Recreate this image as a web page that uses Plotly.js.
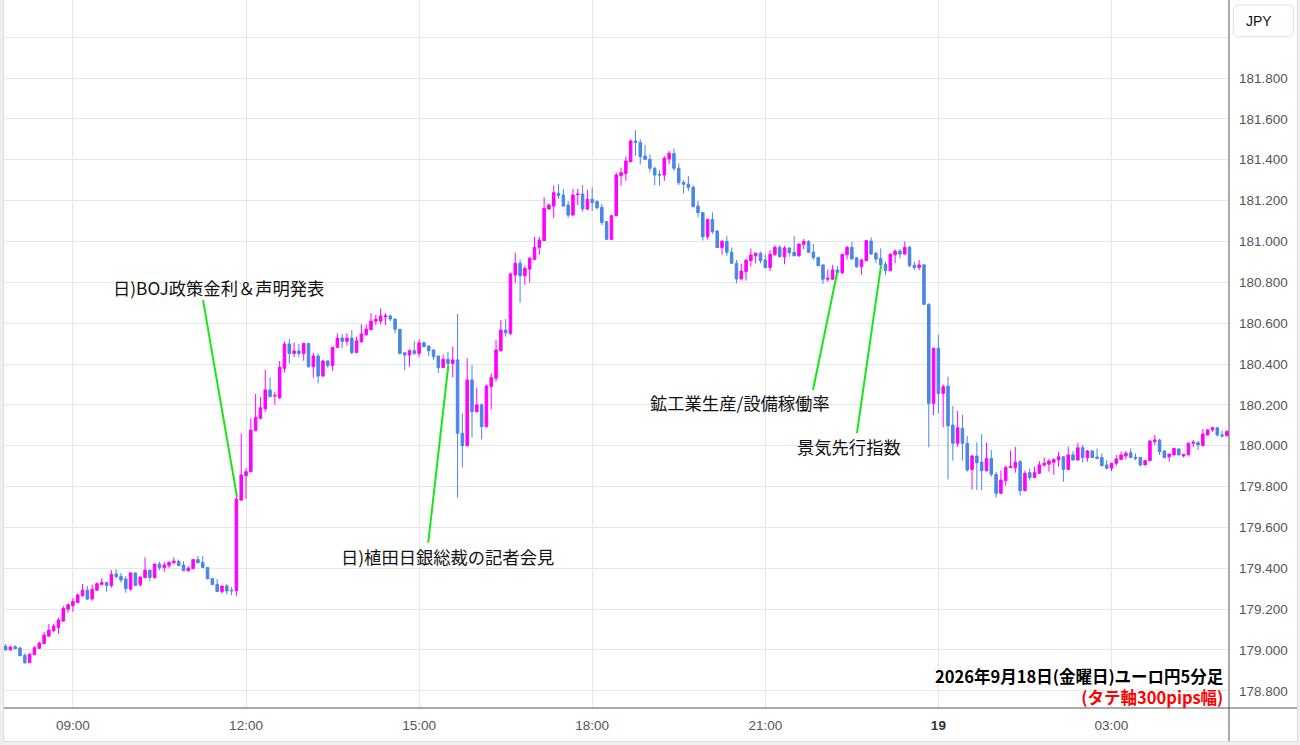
<!DOCTYPE html>
<html><head><meta charset="utf-8">
<script src="https://cdn.plot.ly/plotly-3.0.1.min.js"></script>
<style>
html,body{margin:0;padding:0;background:#efefef;width:1300px;height:745px;overflow:hidden}
#wrap{position:absolute;left:3px;top:-1px;width:1295px;height:743px;border:1px solid #dcdcdc;background:#fff;box-sizing:border-box}
#chart{width:1293px;height:741px}
</style></head><body><div id="wrap"><div id="chart"></div></div>
<script>
const times = [
'2026-09-18 07:50','2026-09-18 07:55',
'2026-09-18 08:00','2026-09-18 08:05','2026-09-18 08:10','2026-09-18 08:15','2026-09-18 08:20','2026-09-18 08:25','2026-09-18 08:30','2026-09-18 08:35','2026-09-18 08:40','2026-09-18 08:45','2026-09-18 08:50','2026-09-18 08:55',
'2026-09-18 09:00','2026-09-18 09:05','2026-09-18 09:10','2026-09-18 09:15','2026-09-18 09:20','2026-09-18 09:25','2026-09-18 09:30','2026-09-18 09:35','2026-09-18 09:40','2026-09-18 09:45','2026-09-18 09:50','2026-09-18 09:55',
'2026-09-18 10:00','2026-09-18 10:05','2026-09-18 10:10','2026-09-18 10:15','2026-09-18 10:20','2026-09-18 10:25','2026-09-18 10:30','2026-09-18 10:35','2026-09-18 10:40','2026-09-18 10:45','2026-09-18 10:50','2026-09-18 10:55',
'2026-09-18 11:00','2026-09-18 11:05','2026-09-18 11:10','2026-09-18 11:15','2026-09-18 11:20','2026-09-18 11:25','2026-09-18 11:30','2026-09-18 11:35','2026-09-18 11:40','2026-09-18 11:45','2026-09-18 11:50','2026-09-18 11:55',
'2026-09-18 12:00','2026-09-18 12:05','2026-09-18 12:10','2026-09-18 12:15','2026-09-18 12:20','2026-09-18 12:25','2026-09-18 12:30','2026-09-18 12:35','2026-09-18 12:40','2026-09-18 12:45','2026-09-18 12:50','2026-09-18 12:55',
'2026-09-18 13:00','2026-09-18 13:05','2026-09-18 13:10','2026-09-18 13:15','2026-09-18 13:20','2026-09-18 13:25','2026-09-18 13:30','2026-09-18 13:35','2026-09-18 13:40','2026-09-18 13:45','2026-09-18 13:50','2026-09-18 13:55',
'2026-09-18 14:00','2026-09-18 14:05','2026-09-18 14:10','2026-09-18 14:15','2026-09-18 14:20','2026-09-18 14:25','2026-09-18 14:30','2026-09-18 14:35','2026-09-18 14:40','2026-09-18 14:45','2026-09-18 14:50','2026-09-18 14:55',
'2026-09-18 15:00','2026-09-18 15:05','2026-09-18 15:10','2026-09-18 15:15','2026-09-18 15:20','2026-09-18 15:25','2026-09-18 15:30','2026-09-18 15:35','2026-09-18 15:40','2026-09-18 15:45','2026-09-18 15:50','2026-09-18 15:55',
'2026-09-18 16:00','2026-09-18 16:05','2026-09-18 16:10','2026-09-18 16:15','2026-09-18 16:20','2026-09-18 16:25','2026-09-18 16:30','2026-09-18 16:35','2026-09-18 16:40','2026-09-18 16:45','2026-09-18 16:50','2026-09-18 16:55',
'2026-09-18 17:00','2026-09-18 17:05','2026-09-18 17:10','2026-09-18 17:15','2026-09-18 17:20','2026-09-18 17:25','2026-09-18 17:30','2026-09-18 17:35','2026-09-18 17:40','2026-09-18 17:45','2026-09-18 17:50','2026-09-18 17:55',
'2026-09-18 18:00','2026-09-18 18:05','2026-09-18 18:10','2026-09-18 18:15','2026-09-18 18:20','2026-09-18 18:25','2026-09-18 18:30','2026-09-18 18:35','2026-09-18 18:40','2026-09-18 18:45','2026-09-18 18:50','2026-09-18 18:55',
'2026-09-18 19:00','2026-09-18 19:05','2026-09-18 19:10','2026-09-18 19:15','2026-09-18 19:20','2026-09-18 19:25','2026-09-18 19:30','2026-09-18 19:35','2026-09-18 19:40','2026-09-18 19:45','2026-09-18 19:50','2026-09-18 19:55',
'2026-09-18 20:00','2026-09-18 20:05','2026-09-18 20:10','2026-09-18 20:15','2026-09-18 20:20','2026-09-18 20:25','2026-09-18 20:30','2026-09-18 20:35','2026-09-18 20:40','2026-09-18 20:45','2026-09-18 20:50','2026-09-18 20:55',
'2026-09-18 21:00','2026-09-18 21:05','2026-09-18 21:10','2026-09-18 21:15','2026-09-18 21:20','2026-09-18 21:25','2026-09-18 21:30','2026-09-18 21:35','2026-09-18 21:40','2026-09-18 21:45','2026-09-18 21:50','2026-09-18 21:55',
'2026-09-18 22:00','2026-09-18 22:05','2026-09-18 22:10','2026-09-18 22:15','2026-09-18 22:20','2026-09-18 22:25','2026-09-18 22:30','2026-09-18 22:35','2026-09-18 22:40','2026-09-18 22:45','2026-09-18 22:50','2026-09-18 22:55',
'2026-09-18 23:00','2026-09-18 23:05','2026-09-18 23:10','2026-09-18 23:15','2026-09-18 23:20','2026-09-18 23:25','2026-09-18 23:30','2026-09-18 23:35','2026-09-18 23:40','2026-09-18 23:45','2026-09-18 23:50','2026-09-18 23:55',
'2026-09-19 00:00','2026-09-19 00:05','2026-09-19 00:10','2026-09-19 00:15','2026-09-19 00:20','2026-09-19 00:25','2026-09-19 00:30','2026-09-19 00:35','2026-09-19 00:40','2026-09-19 00:45','2026-09-19 00:50','2026-09-19 00:55',
'2026-09-19 01:00','2026-09-19 01:05','2026-09-19 01:10','2026-09-19 01:15','2026-09-19 01:20','2026-09-19 01:25','2026-09-19 01:30','2026-09-19 01:35','2026-09-19 01:40','2026-09-19 01:45','2026-09-19 01:50','2026-09-19 01:55',
'2026-09-19 02:00','2026-09-19 02:05','2026-09-19 02:10','2026-09-19 02:15','2026-09-19 02:20','2026-09-19 02:25','2026-09-19 02:30','2026-09-19 02:35','2026-09-19 02:40','2026-09-19 02:45','2026-09-19 02:50','2026-09-19 02:55',
'2026-09-19 03:00','2026-09-19 03:05','2026-09-19 03:10','2026-09-19 03:15','2026-09-19 03:20','2026-09-19 03:25','2026-09-19 03:30','2026-09-19 03:35','2026-09-19 03:40','2026-09-19 03:45','2026-09-19 03:50','2026-09-19 03:55',
'2026-09-19 04:00','2026-09-19 04:05','2026-09-19 04:10','2026-09-19 04:15','2026-09-19 04:20','2026-09-19 04:25','2026-09-19 04:30','2026-09-19 04:35','2026-09-19 04:40','2026-09-19 04:45','2026-09-19 04:50','2026-09-19 04:55',
'2026-09-19 05:00'
];

const openPx = [
179.019,179.000,
179.016,179.010,178.974,178.938,178.977,179.008,179.031,179.068,179.095,179.110,179.142,179.200,
179.217,179.232,179.266,179.293,179.250,179.293,179.321,179.330,179.315,179.372,179.360,179.348,
179.298,179.377,179.320,179.354,179.391,179.354,179.421,179.403,179.413,179.427,179.434,179.416,
179.388,179.398,179.443,179.428,179.404,179.350,179.321,179.286,179.313,179.293,179.290,179.734,
179.853,179.873,180.074,180.134,180.181,180.273,180.243,180.235,180.379,180.498,180.452,180.464,
180.452,180.501,180.387,180.439,180.341,180.415,180.392,180.482,180.527,180.511,180.527,180.456,
180.509,180.543,180.568,180.610,180.610,180.630,180.635,180.620,180.570,180.455,180.444,180.465,
180.452,180.504,180.488,180.469,180.439,180.382,180.423,180.403,180.420,180.061,180.000,180.322,
180.167,180.200,180.093,180.289,180.330,180.465,180.566,180.550,180.836,180.893,180.832,180.865,
180.912,180.971,181.004,181.159,181.173,181.236,181.227,181.178,181.129,181.229,181.232,181.159,
181.206,181.195,181.167,181.097,181.010,181.126,181.322,181.333,181.390,181.492,181.485,181.418,
181.402,181.358,181.328,181.325,181.404,181.431,181.358,181.289,181.281,181.265,181.173,181.142,
181.023,181.108,181.051,180.970,181.000,180.947,180.893,180.816,180.852,180.906,180.930,180.942,
180.909,180.872,180.935,180.971,180.925,180.968,180.947,180.930,180.986,180.999,180.947,180.922,
180.885,180.815,180.815,180.860,180.847,180.935,180.971,180.920,180.876,180.906,181.002,180.942,
180.917,180.888,180.857,180.935,180.953,180.938,180.971,180.883,180.872,180.885,180.692,180.207,
180.477,180.256,180.292,180.101,180.012,180.085,180.012,179.884,179.950,179.920,179.878,179.938,
179.860,179.767,179.829,179.893,179.893,179.922,179.780,179.868,179.844,179.865,179.906,179.909,
179.919,179.930,179.946,179.884,179.955,179.930,179.990,179.942,179.974,179.945,179.942,179.906,
179.890,179.914,179.933,179.950,179.966,179.943,179.942,179.906,179.927,180.020,180.028,179.974,
179.946,179.955,179.984,179.950,179.955,180.012,180.015,180.000,180.053,180.077,180.088,180.053,
180.049
];

const highPx = [
179.029,179.020,
179.023,179.014,178.984,178.980,179.019,179.040,179.088,179.127,179.127,179.157,179.215,179.228,
179.254,179.277,179.323,179.313,179.320,179.330,179.352,179.334,179.391,179.396,179.377,179.362,
179.380,179.380,179.360,179.453,179.393,179.421,179.432,179.430,179.432,179.453,179.443,179.434,
179.410,179.445,179.460,179.460,179.406,179.352,179.347,179.315,179.323,179.308,179.767,180.060,
179.890,180.134,180.253,180.238,180.371,180.335,180.265,180.415,180.509,180.522,180.505,180.498,
180.503,180.503,180.455,180.452,180.420,180.417,180.484,180.550,180.547,180.550,180.566,180.534,
180.594,180.594,180.648,180.640,180.672,180.648,180.643,180.624,180.572,180.457,180.472,180.513,
180.521,180.509,180.490,180.471,180.441,180.447,180.460,180.485,180.645,180.159,180.428,180.395,
180.284,180.208,180.300,180.354,180.518,180.615,180.620,180.847,180.945,180.912,180.881,180.925,
181.023,181.023,181.216,181.186,181.273,181.281,181.257,181.198,181.257,181.257,181.276,181.252,
181.265,181.203,181.183,181.099,181.129,181.337,181.361,181.415,181.500,181.545,181.500,181.472,
181.426,181.366,181.349,181.418,181.443,181.455,181.382,181.300,181.320,181.276,181.198,181.144,
181.110,181.142,181.056,181.007,181.026,180.970,180.909,180.890,180.911,180.966,180.945,180.950,
180.937,180.958,180.982,180.982,180.978,180.970,181.026,180.990,181.012,181.007,180.987,180.925,
180.887,180.863,180.885,180.880,180.939,180.978,180.999,180.922,180.914,181.007,181.020,180.950,
180.966,180.901,180.942,180.961,180.963,180.999,180.978,180.901,180.909,180.890,180.697,180.479,
180.542,180.300,180.338,180.194,180.170,180.150,180.048,179.955,180.017,180.057,180.015,179.979,
179.873,179.878,179.902,179.976,179.995,179.930,179.878,179.890,179.897,179.925,179.942,179.935,
179.938,179.971,179.948,179.995,179.974,180.015,180.004,179.979,179.979,179.987,179.963,179.930,
179.916,179.955,179.971,179.974,179.987,179.963,179.944,179.930,180.028,180.053,180.033,179.979,
179.963,179.990,179.987,179.960,180.015,180.028,180.023,180.082,180.082,180.093,180.090,180.074,
180.077
];

const lowPx = [
178.998,178.998,
179.006,178.972,178.932,178.938,178.975,179.006,179.029,179.063,179.088,179.080,179.138,179.183,
179.187,179.230,179.261,179.245,179.241,179.289,179.316,179.285,179.305,179.349,179.330,179.280,
179.290,179.312,179.310,179.352,179.336,179.350,179.390,179.383,179.400,179.420,179.411,179.386,
179.383,179.396,179.425,179.402,179.347,179.318,179.284,179.276,179.272,179.267,179.265,179.730,
179.739,179.870,180.072,180.129,180.167,180.238,180.201,180.229,180.358,180.403,180.433,180.433,
180.416,180.382,180.333,180.305,180.338,180.382,180.366,180.479,180.477,180.490,180.447,180.452,
180.505,180.540,180.566,180.591,180.594,180.591,180.610,180.550,180.447,180.370,180.387,180.444,
180.436,180.483,180.439,180.420,180.354,180.380,180.363,180.335,179.746,179.893,179.998,180.040,
180.162,180.031,180.090,180.178,180.314,180.460,180.534,180.542,180.798,180.700,180.787,180.798,
180.909,180.934,181.002,181.154,181.116,181.208,181.171,181.116,181.127,181.178,181.146,181.154,
181.150,181.157,181.080,181.008,181.008,181.124,181.273,181.297,181.388,181.418,181.377,181.400,
181.338,181.276,181.273,181.297,181.377,181.345,181.276,181.235,181.248,181.168,181.118,181.004,
181.010,181.036,180.968,180.935,180.930,180.891,180.795,180.814,180.808,180.876,180.893,180.893,
180.868,180.855,180.930,180.923,180.888,180.925,180.928,180.925,180.961,180.945,180.909,180.879,
180.792,180.803,180.813,180.838,180.840,180.912,180.912,180.871,180.836,180.904,180.934,180.896,
180.870,180.836,180.855,180.893,180.917,180.936,180.873,180.860,180.860,180.690,179.992,180.150,
180.159,180.090,179.835,179.927,179.995,179.927,179.873,179.786,179.783,179.783,179.873,179.848,
179.747,179.765,179.805,179.890,179.868,179.756,179.778,179.829,179.842,179.863,179.897,179.873,
179.857,179.897,179.824,179.882,179.927,179.928,179.917,179.922,179.940,179.933,179.900,179.884,
179.876,179.902,179.931,179.933,179.940,179.930,179.898,179.904,179.925,180.004,179.955,179.938,
179.922,179.953,179.953,179.943,179.953,179.995,179.979,179.998,180.049,180.069,180.045,180.040,
180.047
];

const closePx = [
179.000,179.015,
179.006,178.972,178.938,178.980,179.011,179.034,179.073,179.098,179.117,179.147,179.204,179.222,
179.237,179.269,179.292,179.249,179.297,179.325,179.330,179.316,179.370,179.359,179.343,179.300,
179.377,179.316,179.357,179.391,179.355,179.421,179.403,179.416,179.430,179.435,179.413,179.388,
179.401,179.443,179.427,179.404,179.349,179.320,179.286,179.313,179.289,179.290,179.739,179.857,
179.873,180.077,180.139,180.186,180.273,180.240,180.246,180.384,180.498,180.452,180.464,180.452,
180.501,180.387,180.439,180.341,180.415,180.392,180.482,180.527,180.511,180.527,180.456,180.513,
180.547,180.571,180.610,180.619,180.635,180.636,180.620,180.570,180.452,180.444,180.465,180.452,
180.504,180.485,180.465,180.436,180.382,180.423,180.403,180.420,180.061,180.000,180.322,180.167,
180.200,180.093,180.292,180.333,180.469,180.566,180.553,180.841,180.893,180.832,180.868,180.917,
180.971,181.007,181.162,181.178,181.239,181.224,181.173,181.129,181.227,181.232,181.159,181.206,
181.190,181.165,181.093,181.010,181.126,181.325,181.337,181.394,181.492,181.484,181.415,181.402,
181.358,181.325,181.325,181.407,181.431,181.358,181.288,181.280,181.265,181.170,181.141,181.023,
181.108,181.048,180.970,181.000,180.947,180.893,180.816,180.855,180.909,180.934,180.942,180.906,
180.872,180.937,180.971,180.925,180.968,180.945,180.930,180.987,180.999,180.947,180.922,180.881,
180.815,180.819,180.860,180.847,180.937,180.971,180.914,180.876,180.909,181.004,180.938,180.914,
180.885,180.857,180.937,180.953,180.938,180.971,180.882,180.872,180.885,180.692,180.207,180.477,
180.256,180.289,180.098,180.012,180.088,180.012,179.881,179.950,179.917,179.878,179.938,179.860,
179.767,179.832,179.894,179.897,179.919,179.780,179.865,179.844,179.868,179.906,179.914,179.925,
179.933,179.946,179.884,179.955,179.930,179.990,179.942,179.974,179.942,179.938,179.902,179.890,
179.914,179.935,179.955,179.963,179.942,179.938,179.906,179.927,180.023,180.028,179.971,179.942,
179.958,179.987,179.955,179.958,180.012,180.017,180.004,180.057,180.077,180.088,180.053,180.048,
180.069
];

const xTickVals = ['2026-09-18 09:00','2026-09-18 12:00','2026-09-18 15:00','2026-09-18 18:00','2026-09-18 21:00','2026-09-19 00:00','2026-09-19 03:00'];
const xTickText = ['09:00','12:00','15:00','18:00','21:00','<b><span style="color:#333">19</span></b>','03:00'];
const yTickVals = [178.8,179.0,179.2,179.4,179.6,179.8,180.0,180.2,180.4,180.6,180.8,181.0,181.2,181.4,181.6,181.8,182.0];
const yTickText = ['178.800','179.000','179.200','179.400','179.600','179.800','180.000','180.200','180.400','180.600','180.800','181.000','181.200','181.400','181.600','181.800',''];

const eventLabels = ['日)BOJ政策金利＆声明発表','日)植田日銀総裁の記者会見','鉱工業生産/設備稼働率','景気先行指数'];
const titleLine = '2026年9月18日(金曜日)ユーロ円5分足';
const noteLine = '(タテ軸300pips幅)';
const currency = 'JPY';

const GREEN = '#19e619';
const tickFont = {family:'Liberation Sans, Arial, sans-serif', size:13.5, color:'#555'};
const jpFont = {family:'"Noto Sans CJK JP", sans-serif', size:17.3, color:'#111'};

const trace = {
  type:'candlestick', x:times, open:openPx, high:highPx, low:lowPx, close:closePx,
  increasing:{line:{color:'#ff00ff', width:1}, fillcolor:'#ff00ff'},
  decreasing:{line:{color:'#4a86e8', width:1}, fillcolor:'#4a86e8'},
  whiskerwidth:0, hoverinfo:'skip', showlegend:false
};

const W = 1293, PW = 1225, PH = 708;
function gline(x0,y0,x1,y1){return {type:'line',xref:'x',yref:'y',x0:x0,y0:y0,x1:x1,y1:y1,line:{color:GREEN,width:2}};}

const layout = {
  width:W, height:741,
  margin:{l:0,r:W-PW,t:0,b:741-PH,pad:0},
  paper_bgcolor:'#ffffff', plot_bgcolor:'#ffffff',
  showlegend:false,
  boxgap:0.3, boxgroupgap:0.25,
  xaxis:{type:'date', range:['2026-09-18 07:48:20','2026-09-19 05:02:12'], rangeslider:{visible:false},
    tickmode:'array', tickvals:xTickVals, ticktext:xTickText, showgrid:true, gridcolor:'#e1e8f0', gridwidth:1,
    zeroline:false, showline:false, ticks:'', tickfont:tickFont, ticklabelstandoff:7, fixedrange:true},
  yaxis:{side:'right', range:[178.716,182.182], tickmode:'array', tickvals:yTickVals, ticktext:yTickText,
    showgrid:true, gridcolor:'#e1e8f0', gridwidth:1, zeroline:false, showline:false, ticks:'',
    tickfont:tickFont, ticklabelstandoff:9, fixedrange:true},
  shapes:[
    {type:'line',xref:'paper',yref:'paper',x0:0,x1:W/PW,y0:0,y1:0,line:{color:'#555',width:1}},
    {type:'line',xref:'paper',yref:'paper',x0:1,x1:1,y0:-(741-PH)/PH,y1:1,line:{color:'#555',width:1}},
    {type:'path',xref:'paper',yref:'paper',line:{color:'#e2e2e2',width:1},fillcolor:'rgba(0,0,0,0)',
     path:'M1.00759,0.99294 L1.04841,0.99294 Q1.05249,0.99294 1.05249,0.98588 L1.05249,0.95522 Q1.05249,0.94816 1.04841,0.94816 L1.00759,0.94816 Q1.00351,0.94816 1.00351,0.95522 L1.00351,0.98588 Q1.00351,0.99294 1.00759,0.99294 Z'},
    gline('2026-09-18 11:15:18',180.713,'2026-09-18 11:50:38',179.749),
    gline('2026-09-18 15:09:30',179.525,'2026-09-18 15:30:24',180.395),
    gline('2026-09-18 21:49:36',180.273,'2026-09-18 22:14:54',180.852),
    gline('2026-09-18 22:35:18',180.062,'2026-09-18 23:00:18',180.880)
  ],
  annotations:[
    {xref:'x',yref:'y',x:'2026-09-18 11:31:54',y:180.777,text:eventLabels[0],showarrow:false,font:jpFont,xanchor:'center',yanchor:'middle'},
    {xref:'x',yref:'y',x:'2026-09-18 15:30:00',y:179.460,text:eventLabels[1],showarrow:false,font:jpFont,xanchor:'center',yanchor:'middle'},
    {xref:'x',yref:'y',x:'2026-09-18 20:33:42',y:180.214,text:eventLabels[2],showarrow:false,font:jpFont,xanchor:'center',yanchor:'middle'},
    {xref:'x',yref:'y',x:'2026-09-18 22:27:30',y:179.994,text:eventLabels[3],showarrow:false,font:jpFont,xanchor:'center',yanchor:'middle'},
    {xref:'paper',yref:'paper',x:(1225-4)/PW,y:1-686/PH,
     text:'<b>'+titleLine+'</b><br><b><span style="color:#ff0000">'+noteLine+'</span></b>',showarrow:false,align:'right',
     font:{family:'"Noto Sans CJK JP", sans-serif',size:16.5,color:'#000'},xanchor:'right',yanchor:'middle',borderpad:0},
    {xref:'paper',yref:'paper',x:(1244-4)/PW,y:1-21/PH,text:currency,showarrow:false,
     font:{family:'Liberation Sans, Arial, sans-serif',size:14,color:'#111'},xanchor:'left',yanchor:'middle'}
  ]
};

Plotly.newPlot('chart',[trace],layout,{staticPlot:true,displayModeBar:false});
</script></body></html>
